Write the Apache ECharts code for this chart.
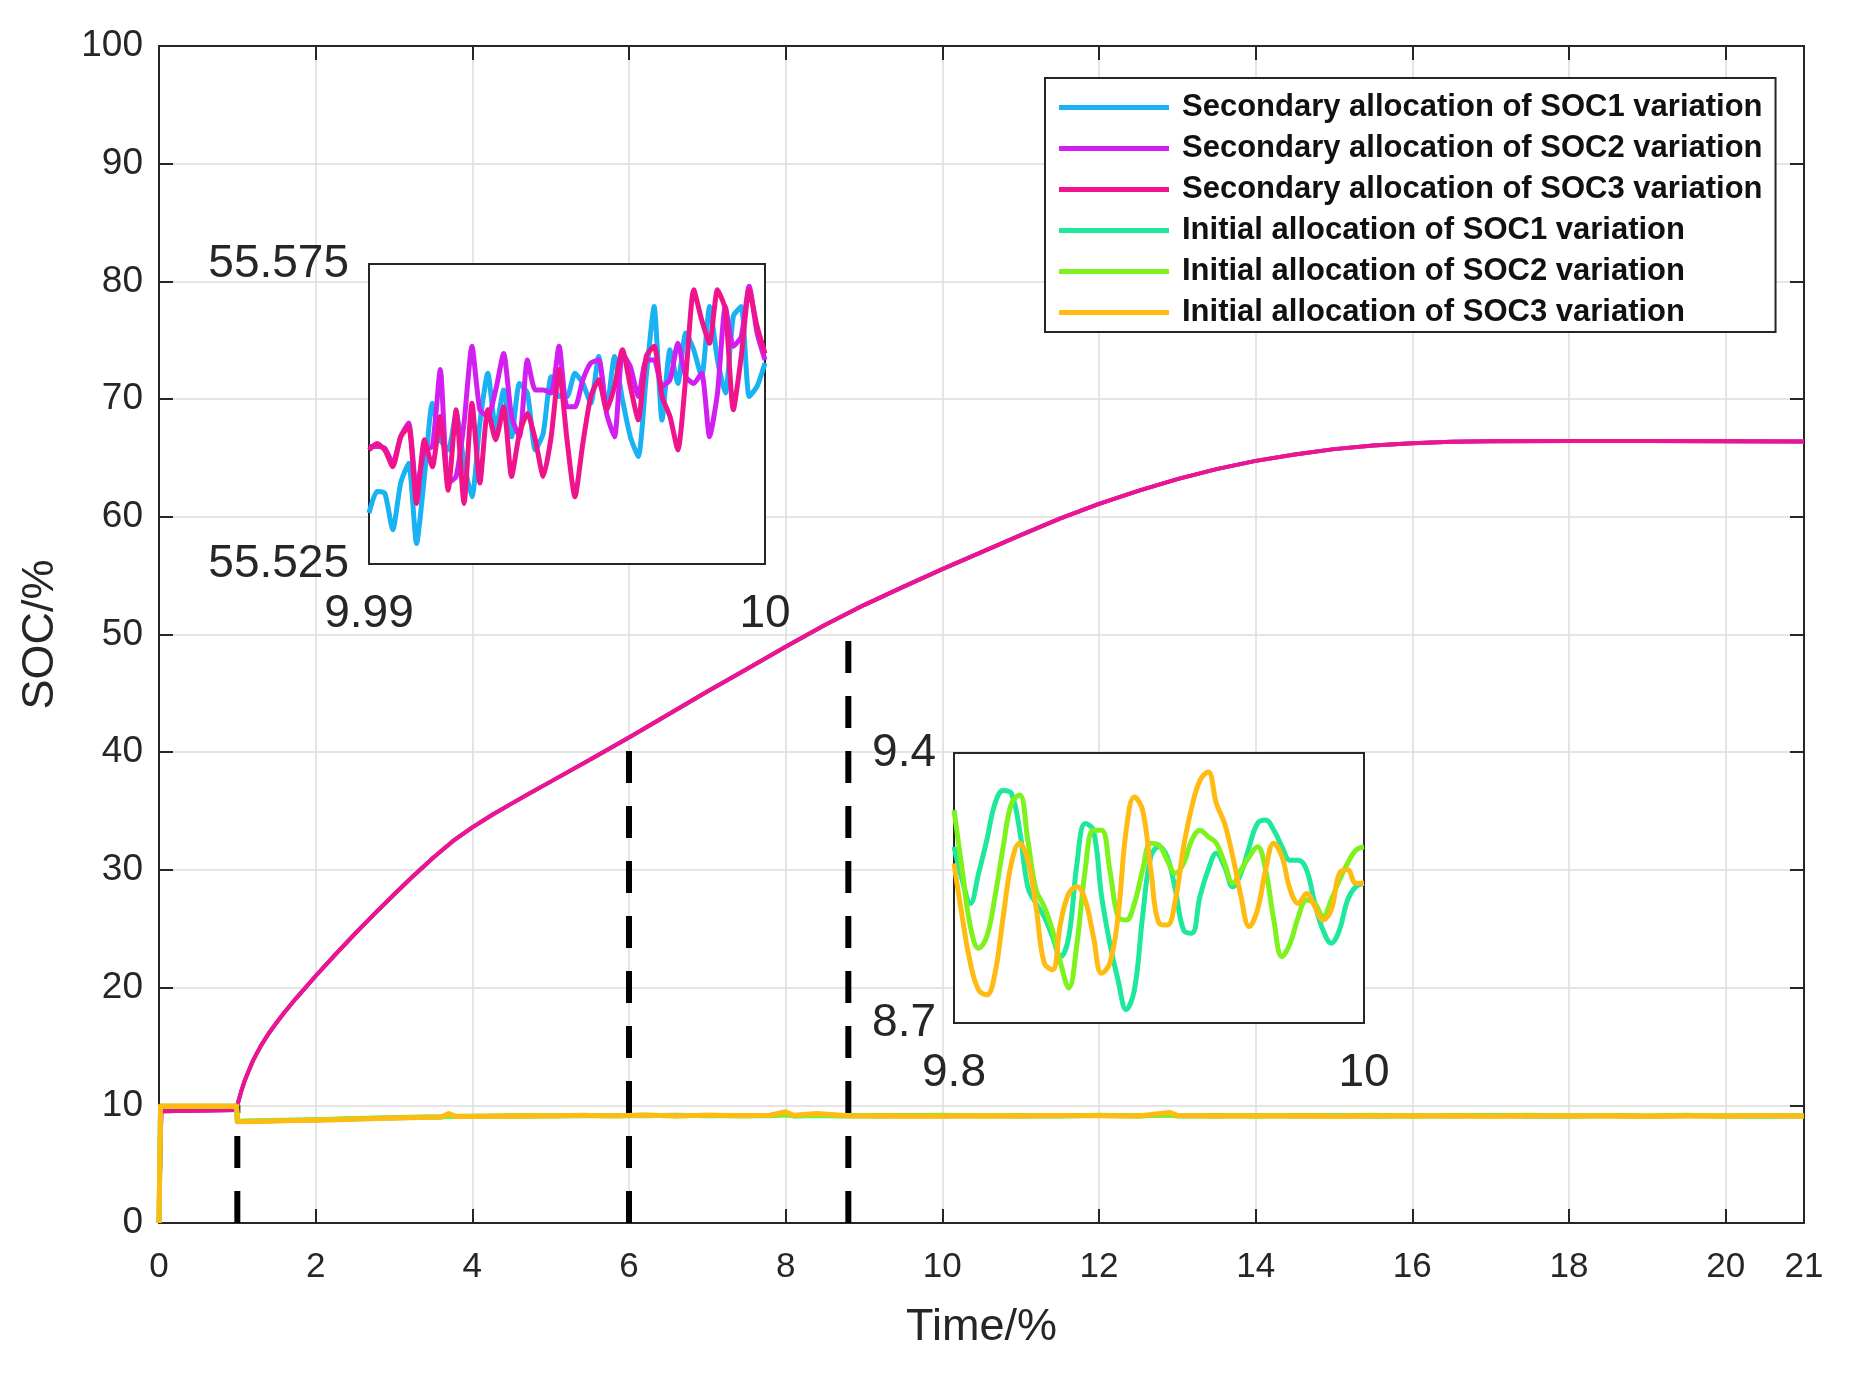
<!DOCTYPE html>
<html><head><meta charset="utf-8">
<script src="https://cdn.jsdelivr.net/npm/echarts@6/dist/echarts.min.js"></script>
<style>html,body{margin:0;padding:0;background:#fff}#c{width:1851px;height:1375px}</style>
</head><body><div id="c"></div>
<script>
// ---------- DATA ----------
const seriesNames = [
  'Secondary allocation of SOC1 variation',
  'Secondary allocation of SOC2 variation',
  'Secondary allocation of SOC3 variation',
  'Initial allocation of SOC1 variation',
  'Initial allocation of SOC2 variation',
  'Initial allocation of SOC3 variation'
];
const seriesColors = ['#19b2f2', '#d21ef0', '#f0148c', '#1ee89b', '#7df21c', '#ffbb11'];

// secondary allocation (SOC1..3 overlap on the main plot)
const secTime = [0,0.03,0.99,1.0,1.05,1.1,1.2,1.3,1.4,1.5,1.6,1.75,2.0,2.25,2.5,2.75,3.0,3.25,3.5,3.75,4.0,4.25,4.5,4.75,5.0,5.5,6.0,6.5,7.0,7.5,8.0,8.5,9.0,9.5,10.0,10.5,11.0,11.5,12.0,12.5,13.0,13.5,14.0,14.5,15.0,15.5,16.0,16.5,17.0,18.0,19.0,20.0,21.0];
const secSOC = [0,9.5,9.6,10.0,11.2,12.2,13.8,15.05,16.1,17.02,17.89,19.09,20.99,22.81,24.56,26.26,27.91,29.51,31.04,32.44,33.61,34.66,35.63,36.57,37.5,39.35,41.25,43.2,45.15,47.05,48.95,50.8,52.5,54.05,55.55,57.0,58.45,59.85,61.1,62.2,63.2,64.05,64.75,65.3,65.75,66.05,66.25,66.38,66.42,66.45,66.45,66.42,66.4];

// initial allocation
const initTime = [0,0.02,0.99,1.0,1.3,1.6,2.0,2.4,2.8,3.2,3.6,3.7,3.8,4.2,4.6,5.0,5.4,5.8,6.2,6.6,7.0,7.4,7.8,8.0,8.1,8.4,8.8,9.2,9.6,10.0,10.5,11.0,11.5,12.0,12.5,12.9,13.0,13.5,14.0,14.5,15.0,15.5,16.0,16.5,17.0,17.5,18.0,18.5,19.0,19.5,20.0,20.5,21.0];
const initSOC1 = [0,9.92,9.92,8.62,8.66,8.7,8.76,8.83,8.9,8.96,9.0,9.08,9.04,9.06,9.1,9.12,9.12,9.14,9.12,9.16,9.12,9.14,9.12,9.22,9.1,9.14,9.12,9.1,9.14,9.1,9.12,9.1,9.12,9.14,9.1,9.2,9.12,9.1,9.14,9.1,9.12,9.08,9.12,9.1,9.14,9.08,9.1,9.12,9.08,9.12,9.1,9.08,9.12];
const initSOC2 = [0,9.9,9.9,8.65,8.68,8.72,8.78,8.85,8.92,8.98,9.02,9.1,9.06,9.08,9.12,9.1,9.16,9.1,9.18,9.1,9.16,9.1,9.14,9.2,9.12,9.16,9.1,9.14,9.12,9.16,9.1,9.14,9.1,9.16,9.12,9.18,9.1,9.14,9.08,9.14,9.1,9.16,9.08,9.14,9.1,9.16,9.08,9.14,9.1,9.16,9.08,9.14,9.06];
const initSOC3 = [0,9.95,9.95,8.6,8.62,8.68,8.72,8.8,8.88,8.95,9.0,9.3,9.05,9.08,9.1,9.12,9.14,9.12,9.15,9.12,9.15,9.13,9.15,9.45,9.15,9.3,9.12,9.1,9.08,9.06,9.12,9.1,9.14,9.12,9.1,9.4,9.14,9.1,9.12,9.1,9.08,9.1,9.12,9.1,9.08,9.1,9.12,9.1,9.08,9.1,9.1,9.12,9.1];

// dashed markers
const dashTimes = [1, 6, 8.8];
const dashTops = [10, 41, 50];

// zoom 1 (9.99 - 10)
const zoom1Time = [9.9900,9.9902,9.9904,9.9906,9.9908,9.9910,9.9912,9.9914,9.9916,9.9918,9.9920,9.9922,9.9924,9.9926,9.9928,9.9930,9.9932,9.9934,9.9936,9.9938,9.9940,9.9942,9.9944,9.9946,9.9948,9.9950,9.9952,9.9954,9.9956,9.9958,9.9960,9.9962,9.9964,9.9966,9.9968,9.9970,9.9972,9.9974,9.9976,9.9978,9.9980,9.9982,9.9984,9.9986,9.9988,9.9990,9.9992,9.9994,9.9996,9.9998,10.0000];
const zoom1SOC1 = [55.5335,55.5371,55.5368,55.5307,55.5385,55.5418,55.5284,55.5396,55.5518,55.5457,55.5440,55.5501,55.5418,55.5362,55.5485,55.5568,55.5474,55.5540,55.5462,55.5551,55.5535,55.5440,55.5468,55.5562,55.5529,55.5529,55.5568,55.5551,55.5518,55.5596,55.5507,55.5596,55.5524,55.5462,55.5429,55.5562,55.5679,55.5490,55.5607,55.5551,55.5635,55.5607,55.5562,55.5679,55.5590,55.5535,55.5663,55.5679,55.5529,55.5546,55.5585];
const zoom1SOC2 = [55.5446,55.5446,55.5443,55.5418,55.5462,55.5485,55.5373,55.5440,55.5446,55.5574,55.5385,55.5396,55.5485,55.5613,55.5507,55.5496,55.5540,55.5601,55.5496,55.5462,55.5590,55.5540,55.5540,55.5535,55.5613,55.5512,55.5512,55.5557,55.5585,55.5590,55.5501,55.5462,55.5601,55.5579,55.5529,55.5590,55.5590,55.5546,55.5557,55.5618,55.5562,55.5551,55.5568,55.5462,55.5535,55.5679,55.5613,55.5629,55.5713,55.5635,55.5590];
const zoom1SOC3 = [55.5440,55.5451,55.5440,55.5412,55.5462,55.5479,55.5351,55.5457,55.5412,55.5496,55.5373,55.5507,55.5351,55.5518,55.5385,55.5507,55.5457,55.5512,55.5396,55.5468,55.5501,55.5457,55.5396,55.5462,55.5574,55.5457,55.5362,55.5451,55.5529,55.5557,55.5507,55.5546,55.5607,55.5546,55.5490,55.5596,55.5613,55.5529,55.5496,55.5440,55.5562,55.5707,55.5657,55.5618,55.5707,55.5674,55.5507,55.5596,55.5707,55.5646,55.5601];
const zoom1XTicks = [9.99, 10];
const zoom1YTicks = [55.525, 55.575];

// zoom 2 (9.8 - 10)
const zoom2Time = [9.800,9.804,9.808,9.812,9.816,9.820,9.824,9.828,9.832,9.836,9.840,9.844,9.848,9.852,9.856,9.860,9.864,9.868,9.872,9.876,9.880,9.884,9.888,9.892,9.896,9.900,9.904,9.908,9.912,9.916,9.920,9.924,9.928,9.932,9.936,9.940,9.944,9.948,9.952,9.956,9.960,9.964,9.968,9.972,9.976,9.980,9.984,9.988,9.992,9.996,10.000];
const zoom2SOC1 = [9.157,9.071,9.010,9.088,9.174,9.269,9.303,9.295,9.200,9.053,9.010,8.976,8.924,8.872,8.924,9.114,9.217,9.200,9.028,8.907,8.812,8.735,8.786,8.976,9.131,9.157,9.131,9.045,8.941,8.933,9.028,9.097,9.140,9.105,9.053,9.088,9.157,9.217,9.226,9.200,9.157,9.122,9.122,9.097,9.010,8.941,8.907,8.941,9.019,9.053,9.062];
const zoom2SOC2 = [9.252,9.097,8.950,8.894,8.924,9.028,9.157,9.269,9.291,9.174,9.045,9.002,8.941,8.855,8.791,8.907,9.097,9.200,9.200,9.097,8.976,8.967,9.010,9.097,9.166,9.161,9.122,9.088,9.114,9.174,9.200,9.183,9.166,9.114,9.062,9.097,9.131,9.157,9.097,8.967,8.872,8.907,8.976,9.019,9.010,8.976,9.019,9.071,9.114,9.148,9.157];
const zoom2SOC3 = [9.114,8.976,8.855,8.786,8.773,8.829,8.976,9.114,9.166,9.122,9.002,8.855,8.838,8.959,9.036,9.053,9.019,8.924,8.829,8.855,8.976,9.200,9.286,9.252,9.097,8.959,8.954,9.019,9.157,9.260,9.329,9.351,9.269,9.217,9.131,9.028,8.950,8.993,9.097,9.166,9.131,9.045,9.010,9.036,9.002,8.967,8.993,9.088,9.097,9.062,9.062];
const zoom2XTicks = [9.8, 10];
const zoom2YTicks = [8.7, 9.4];

// ---------- CHART ----------
const FONT = 'Liberation Sans, Arial, sans-serif';
const INK = '#262626';
const pair = (xs, ys) => xs.map((x, i) => [x, ys[i]]);

const chart = echarts.init(document.getElementById('c'), null, {renderer: 'canvas'});

const mainLines = [
  pair(secTime, secSOC), pair(secTime, secSOC), pair(secTime, secSOC),
  pair(initTime, initSOC1), pair(initTime, initSOC2), pair(initTime, initSOC3)
];
const z1 = [zoom1SOC1, zoom1SOC2, zoom1SOC3];
const z2 = [zoom2SOC1, zoom2SOC2, zoom2SOC3];

const series = [];
mainLines.forEach((d, i) => series.push({
  name: seriesNames[i], type: 'line', xAxisIndex: 0, yAxisIndex: 0, data: d,
  symbol: 'none', smooth: false,
  lineStyle: {color: seriesColors[i], width: i < 3 ? 4 : 5, join: 'round'}, itemStyle: {color: seriesColors[i]}, z: 2
}));
dashTimes.forEach((t, i) => series.push({
  type: 'line', xAxisIndex: 0, yAxisIndex: 0, data: [[t, 0], [t, dashTops[i]]],
  symbol: 'none', silent: true, lineStyle: {color: '#000', width: 6, type: [32, 23]}, z: 1
}));
z1.forEach((v, i) => series.push({
  name: seriesNames[i], type: 'line', xAxisIndex: 2, yAxisIndex: 2, data: pair(zoom1Time, v),
  symbol: 'none', smooth: 0.2, lineStyle: {color: seriesColors[i], width: 5}, itemStyle: {color: seriesColors[i]}, z: 6
}));
z2.forEach((v, i) => series.push({
  name: seriesNames[i + 3], type: 'line', xAxisIndex: 3, yAxisIndex: 3, data: pair(zoom2Time, v),
  symbol: 'none', smooth: 0.4, lineStyle: {color: seriesColors[i + 3], width: 5}, itemStyle: {color: seriesColors[i + 3]}, z: 6
}));

const insetX = (grid, lo, hi, ticks) => ({
  type: 'value', gridIndex: grid, min: lo, max: hi, z: 5,
  axisLine: {show: false}, axisTick: {show: false}, splitLine: {show: false},
  axisLabel: {customValues: ticks, fontSize: 46, color: INK, fontFamily: FONT, margin: 27}
});
const insetY = (grid, lo, hi, ticks, margin) => ({
  type: 'value', gridIndex: grid, min: lo, max: hi, z: 5,
  axisLine: {show: false}, axisTick: {show: false}, splitLine: {show: false},
  axisLabel: {customValues: ticks, fontSize: 46, color: INK, fontFamily: FONT, margin: margin}
});

const option = {
  animation: false,
  backgroundColor: '#fff',
  grid: [
    {left: 159, top: 46, right: 47, bottom: 152, show: false},
    {left: 369, top: 264, width: 396, height: 300, show: true, backgroundColor: '#fff', borderColor: INK, borderWidth: 2, z: 4},
    {left: 954, top: 753, width: 410, height: 270, show: true, backgroundColor: '#fff', borderColor: INK, borderWidth: 2, z: 4}
  ],
  legend: {
    data: seriesNames, orient: 'vertical', left: 1045, top: 78,
    padding: [14, 13, 4, 14], itemGap: 10, itemWidth: 110, itemHeight: 30,
    icon: 'path://M0,0M110,30M0,12.5H110V17.5H0Z',
    itemStyle: {borderWidth: 0},
    backgroundColor: '#fff', borderColor: INK, borderWidth: 2, borderRadius: 0,
    textStyle: {fontSize: 31, fontWeight: 'bold', color: '#111', fontFamily: FONT, lineHeight: 30, padding: [0, 0, 0, 8]},
    selectedMode: false, z: 10
  },
  xAxis: [
    {
      type: 'value', gridIndex: 0, position: 'bottom', min: 0, max: 21, interval: 2,
      name: 'Time/%', nameLocation: 'middle', nameGap: 82,
      nameTextStyle: {fontSize: 45, color: INK, fontFamily: FONT},
      axisLine: {show: true, onZero: false, lineStyle: {color: INK, width: 2}},
      axisTick: {show: true, inside: true, length: 14, lineStyle: {color: INK, width: 2}},
      axisLabel: {fontSize: 35, color: INK, fontFamily: FONT, margin: 27},
      splitLine: {show: true, lineStyle: {color: '#dcdcdc', width: 1.5}}
    },
    {
      type: 'value', gridIndex: 0, position: 'top', min: 0, max: 21, interval: 2,
      axisLine: {show: true, onZero: false, lineStyle: {color: INK, width: 2}},
      axisTick: {show: true, inside: true, length: 14, lineStyle: {color: INK, width: 2}},
      axisLabel: {show: false}, splitLine: {show: false}
    },
    insetX(1, 9.99, 10, zoom1XTicks),
    insetX(2, 9.8, 10, zoom2XTicks)
  ],
  yAxis: [
    {
      type: 'value', gridIndex: 0, position: 'left', min: 0, max: 100, interval: 10,
      name: 'SOC/%', nameLocation: 'middle', nameGap: 96, nameRotate: 90,
      nameTextStyle: {fontSize: 45, color: INK, fontFamily: FONT},
      axisLine: {show: true, onZero: false, lineStyle: {color: INK, width: 2}},
      axisTick: {show: true, inside: true, length: 14, lineStyle: {color: INK, width: 2}},
      axisLabel: {fontSize: 37, color: INK, fontFamily: FONT, margin: 16},
      splitLine: {show: true, lineStyle: {color: '#dcdcdc', width: 1.5}}
    },
    {
      type: 'value', gridIndex: 0, position: 'right', min: 0, max: 100, interval: 10,
      axisLine: {show: true, onZero: false, lineStyle: {color: INK, width: 2}},
      axisTick: {show: true, inside: true, length: 14, lineStyle: {color: INK, width: 2}},
      axisLabel: {show: false}, splitLine: {show: false}
    },
    insetY(1, 55.525, 55.575, zoom1YTicks, 20),
    insetY(2, 8.7, 9.4, zoom2YTicks, 18)
  ],
  series: series
};
chart.setOption(option);
</script>
</body></html>
